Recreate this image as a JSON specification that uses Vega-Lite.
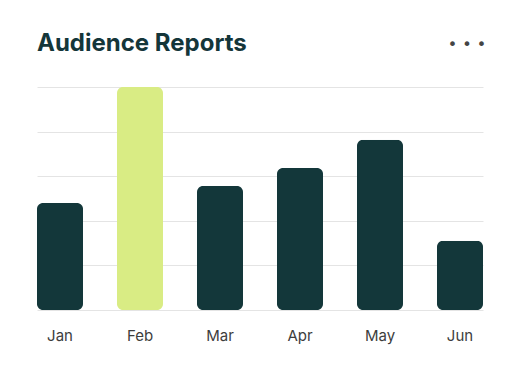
{
  "$schema": "https://vega.github.io/schema/vega-lite/v6.json",
  "width": 446,
  "height": 223,
  "autosize": {"type": "none"},
  "padding": {"left": 37, "top": 87, "right": 38, "bottom": 66},
  "background": "white",
  "title": {
    "text": "Audience Reports",
    "anchor": "start",
    "frame": "group",
    "offset": -19,
    "font": "Inter",
    "fontSize": 24,
    "fontWeight": "bold",
    "color": "#14363a"
  },
  "data": {
    "values": [
      {"month": "Jan", "value": 48, "highlight": "no"},
      {"month": "Feb", "value": 100, "highlight": "yes"},
      {"month": "Mar", "value": 55.6, "highlight": "no"},
      {"month": "Apr", "value": 63.7, "highlight": "no"},
      {"month": "May", "value": 76.3, "highlight": "no"},
      {"month": "Jun", "value": 31, "highlight": "no"}
    ]
  },
  "config": {"view": {"stroke": null}},
  "layer": [
    {
      "mark": {"type": "bar", "cornerRadius": 6},
      "encoding": {
        "x": {
          "field": "month",
          "type": "nominal",
          "sort": ["Jan", "Feb", "Mar", "Apr", "May", "Jun"],
          "scale": {"paddingInner": 0.425, "paddingOuter": 0},
          "axis": {
            "title": null,
            "domain": false,
            "ticks": false,
            "labelAngle": 0,
            "labelPadding": 18,
            "labelFont": "Inter",
            "labelFontSize": 15,
            "labelColor": "#3d3d3d"
          }
        },
        "y": {
          "field": "value",
          "type": "quantitative",
          "scale": {"domain": [0, 100]},
          "axis": {
            "title": null,
            "labels": false,
            "ticks": false,
            "domain": false,
            "values": [0, 20, 40, 60, 80, 100],
            "gridColor": "#e4e4e4",
            "gridWidth": 1
          }
        },
        "color": {
          "field": "highlight",
          "type": "nominal",
          "scale": {"domain": ["no", "yes"], "range": ["#13373a", "#d9ec84"]},
          "legend": null
        }
      }
    },
    {
      "data": {"values": [{"month": "Jun", "label": "• • •"}]},
      "mark": {"type": "text", "font": "DejaVu Sans", "fontSize": 16, "color": "#444444", "dx": 7, "clip": false},
      "encoding": {
        "x": {"field": "month", "type": "nominal", "sort": ["Jan", "Feb", "Mar", "Apr", "May", "Jun"]},
        "y": {"datum": 119},
        "text": {"field": "label"}
      }
    }
  ]
}
